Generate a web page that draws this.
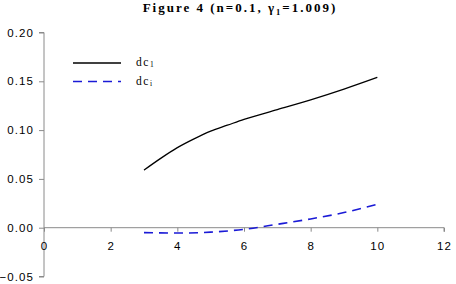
<!DOCTYPE html>
<html>
<head>
<meta charset="utf-8">
<script src="https://cdn.jsdelivr.net/npm/d3@7"></script>
<style>
  body { margin: 0; background: #fff; }
</style>
</head>
<body>
<svg width="456" height="284"></svg>
<script>
const { select, scaleLinear, axisLeft, axisBottom, line, curveMonotoneX } = d3;

const xTicks = [0, 2, 4, 6, 8, 10, 12];
const yTicks = [-0.05, 0, 0.05, 0.1, 0.15, 0.2];

const dc1X = [3, 3.5, 4, 4.5, 5, 5.5, 6, 7, 8, 9, 10];
const dc1Y = [0.059, 0.071, 0.082, 0.091, 0.099, 0.105, 0.111, 0.121, 0.131, 0.142, 0.154];

const dciX = [3, 4, 5, 6, 7, 8, 9, 10];
const dciY = [-0.005, -0.0055, -0.0045, -0.0017, 0.0035, 0.009, 0.0155, 0.024];

const svg = select('svg');

const x = scaleLinear().domain([0, 12]).range([44, 444]);
const y = scaleLinear().domain([-0.05, 0.2]).range([276.5, 32.5]);

// Title
svg.append('text')
    .attr('x', 240)
    .attr('y', 12)
    .attr('text-anchor', 'middle')
    .attr('font-family', 'Liberation Serif, serif')
    .attr('font-weight', 'bold')
    .attr('font-size', 13)
    .attr('letter-spacing', 2)
    .call((t) => {
        t.append('tspan').text('Figure 4 (n=0.1, γ');
        t.append('tspan').attr('font-size', 8.5).attr('dy', 3).text('1');
        t.append('tspan').attr('dy', -3).text('=1.009)');
    });

// Y axis
const yAxisG = svg.append('g')
    .attr('transform', `translate(${x(0)},0)`)
    .call(axisLeft(y).tickValues(yTicks).tickSize(5).tickFormat(d3.format('.2f')));
yAxisG.select('.domain').attr('stroke', '#8a8a8a').attr('d', `M-5,${y(-0.05)}H0V${y(0.2)}H-5`);
yAxisG.selectAll('.tick line').attr('stroke', '#8a8a8a');
yAxisG.selectAll('.tick text')
    .attr('x', -10)
    .attr('font-family', 'Liberation Sans, Arial, sans-serif')
    .attr('font-size', 11.5)
    .attr('letter-spacing', 1.1)
    .attr('fill', '#000');

// X axis at y = 0
const xAxisG = svg.append('g')
    .attr('transform', `translate(0,${y(0)})`)
    .call(axisBottom(x).tickValues(xTicks).tickSize(4).tickFormat(d3.format('d')));
xAxisG.select('.domain').attr('stroke', '#8a8a8a').attr('d', `M${x(0)},0H${x(12)}V4`);
xAxisG.selectAll('.tick line').attr('stroke', '#8a8a8a');
xAxisG.selectAll('.tick text')
    .attr('y', 14)
    .attr('font-family', 'Liberation Sans, Arial, sans-serif')
    .attr('font-size', 11.5)
    .attr('letter-spacing', 1.1)
    .attr('fill', '#000');

const lineGen = line()
    .x((d) => x(d[0]))
    .y((d) => y(d[1]))
    .curve(curveMonotoneX);

svg.append('path')
    .datum(dc1X.map((v, i) => [v, dc1Y[i]]))
    .attr('fill', 'none')
    .attr('stroke', '#000')
    .attr('stroke-width', 1.3)
    .attr('d', lineGen);

svg.append('path')
    .datum(dciX.map((v, i) => [v, dciY[i]]))
    .attr('fill', 'none')
    .attr('stroke', '#1a1ad6')
    .attr('stroke-width', 1.6)
    .attr('stroke-dasharray', '9,6')
    .attr('d', lineGen);

// Legend
const legend = svg.append('g');
const items = [
    { label: '1', color: '#000', dash: null, w: 1.3 },
    { label: 'i', color: '#1a1ad6', dash: '9,6', w: 1.6 },
];
items.forEach((it, i) => {
    const ly = 63 + i * 18.5;
    legend.append('line')
        .attr('x1', 73).attr('x2', 121)
        .attr('y1', ly).attr('y2', ly)
        .attr('stroke', it.color)
        .attr('stroke-width', it.w)
        .attr('stroke-dasharray', it.dash);
    legend.append('text')
        .attr('x', 136)
        .attr('y', ly + 3)
        .attr('font-family', 'Liberation Serif, serif')
        .attr('font-size', 11.5)
        .attr('letter-spacing', 1.6)
        .call((t) => {
            t.append('tspan').text('dc');
            t.append('tspan').attr('font-size', 7.5).attr('dy', 1).text(it.label);
        });
});
</script>
</body>
</html>
